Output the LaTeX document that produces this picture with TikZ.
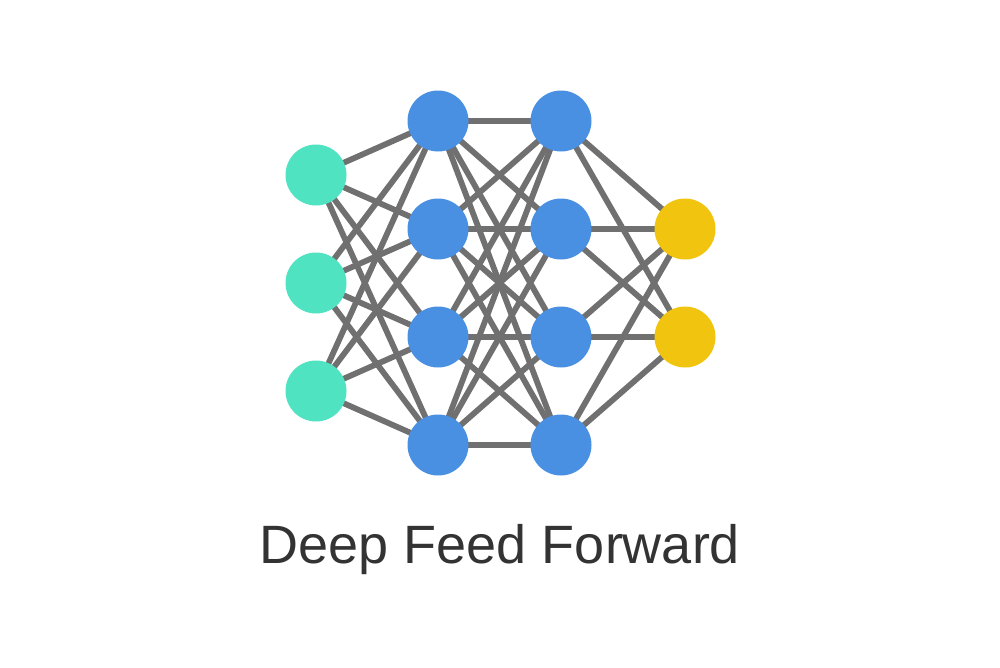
\documentclass[tikz,border=0pt]{standalone}
\usepackage{fontspec}
\setmainfont{Liberation Sans}
\usetikzlibrary{backgrounds}
\definecolor{teal1}{HTML}{50E3C2}
\definecolor{blue1}{HTML}{4A90E2}
\definecolor{yel1}{HTML}{F1C40F}
\definecolor{edgegray}{HTML}{707070}
\definecolor{txt}{HTML}{333333}
\begin{document}
\begin{tikzpicture}[x=1pt,y=-1pt,
  neuron/.style={circle,minimum size=61pt,inner sep=0pt},
  inp/.style={neuron,fill=teal1},
  hid/.style={neuron,fill=blue1},
  outp/.style={neuron,fill=yel1},
  conn/.style={draw=edgegray,line width=5.8pt}]
\useasboundingbox (0,0) rectangle (1000,667);
\node[inp] (i1) at (316,175) {};
\node[inp] (i2) at (316,283) {};
\node[inp] (i3) at (316,391) {};
\node[hid] (a1) at (438,121) {};
\node[hid] (a2) at (438,229) {};
\node[hid] (a3) at (438,337) {};
\node[hid] (a4) at (438,445) {};
\node[hid] (b1) at (561,121) {};
\node[hid] (b2) at (561,229) {};
\node[hid] (b3) at (561,337) {};
\node[hid] (b4) at (561,445) {};
\node[outp] (o1) at (685,229) {};
\node[outp] (o2) at (685,337) {};
\begin{scope}[on background layer]
\foreach \s in {i1,i2,i3}{\foreach \t in {a1,a2,a3,a4}{\path[conn] (\s.center) -- (\t.center);}}
\foreach \s in {a1,a2,a3,a4}{\foreach \t in {b1,b2,b3,b4}{\path[conn] (\s.center) -- (\t.center);}}
\foreach \s in {b1,b2,b3,b4}{\foreach \t in {o1,o2}{\path[conn] (\s.center) -- (\t.center);}}
\end{scope}
\node[anchor=base,text=txt,font=\fontsize{54}{60}\selectfont,inner sep=0pt] (title) at (500,563) {Deep Feed Forward};
\end{tikzpicture}
\end{document}
